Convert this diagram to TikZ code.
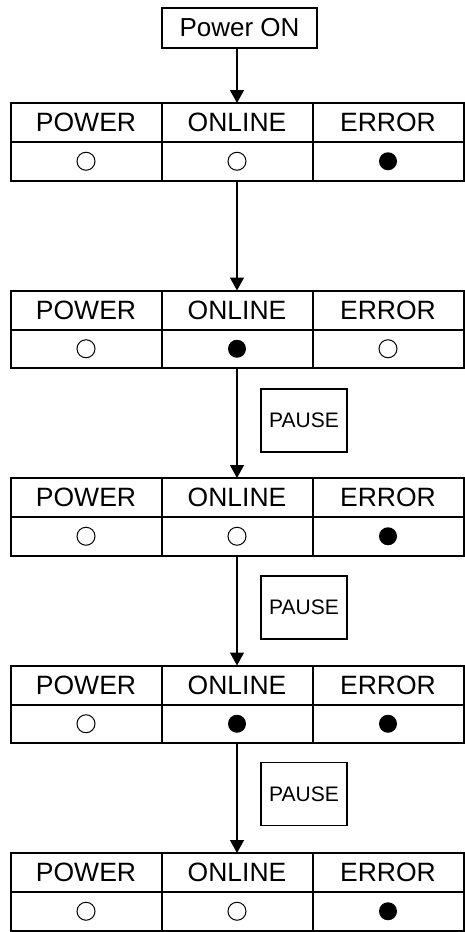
\documentclass[tikz,border=0pt]{standalone}
\usepackage{fontspec}
\setmainfont{Liberation Sans}
\usetikzlibrary{arrows.meta}
\newcommand{\ledtable}[5]{%
  \node[hcell] (#1h1) at (86,#2+19.5) {POWER};
  \node[hcell] (#1h2) at (237,#2+19.5) {ONLINE};
  \node[hcell] (#1h3) at (388,#2+19.5) {ERROR};
  \node[dcell] (#1d1) at (86,#2+58.25) {};
  \node[dcell] (#1d2) at (237,#2+58.25) {};
  \node[dcell] (#1d3) at (388,#2+58.25) {};
  \node[#3] (#1l1) at (#1d1.center) {};
  \node[#4] (#1l2) at (#1d2.center) {};
  \node[#5] (#1l3) at (#1d3.center) {};
}
\begin{document}
\begin{tikzpicture}[x=1pt,y=-1pt,
  cell/.style={draw,line width=2pt,minimum width=151pt,inner sep=0pt,outer sep=0pt},
  hcell/.style={cell,minimum height=39pt,font=\fontsize{26.5}{30}\selectfont},
  dcell/.style={cell,minimum height=38.5pt},
  ledoff/.style={circle,draw,line width=1pt,minimum size=18pt,inner sep=0pt},
  ledon/.style={circle,fill=black,minimum size=18pt,inner sep=0pt},
  startbox/.style={draw,line width=2pt,minimum width=155pt,minimum height=40pt,inner sep=0pt,font=\fontsize{26}{30}\selectfont},
  pausebox/.style={draw,line width=1.3pt,minimum width=86pt,minimum height=63pt,inner sep=0pt,font=\fontsize{21}{24}\selectfont},
  arr/.style={line width=1.3pt,-{Triangle[width=14pt,length=13pt]}}]
\useasboundingbox (0,0) rectangle (464,932);
\node[startbox] (pon) at (239.5,28) {Power ON};
\ledtable{a}{103}{ledoff}{ledoff}{ledon}
\ledtable{b}{290.5}{ledoff}{ledon}{ledoff}
\ledtable{c}{478}{ledoff}{ledoff}{ledon}
\ledtable{d}{665.5}{ledoff}{ledon}{ledon}
\ledtable{e}{853}{ledoff}{ledoff}{ledon}
\node[pausebox] (p1) at (304,420.5) {PAUSE};
\node[pausebox] (p2) at (304,607.5) {PAUSE};
\node[pausebox] (p3) at (304,794) {PAUSE};
\draw[arr] (pon.south -| ah2.north) -- (ah2.north);
\draw[arr] (ad2.south) -- (bh2.north);
\draw[arr] (bd2.south) -- (ch2.north);
\draw[arr] (cd2.south) -- (dh2.north);
\draw[arr] (dd2.south) -- (eh2.north);
\end{tikzpicture}
\end{document}
